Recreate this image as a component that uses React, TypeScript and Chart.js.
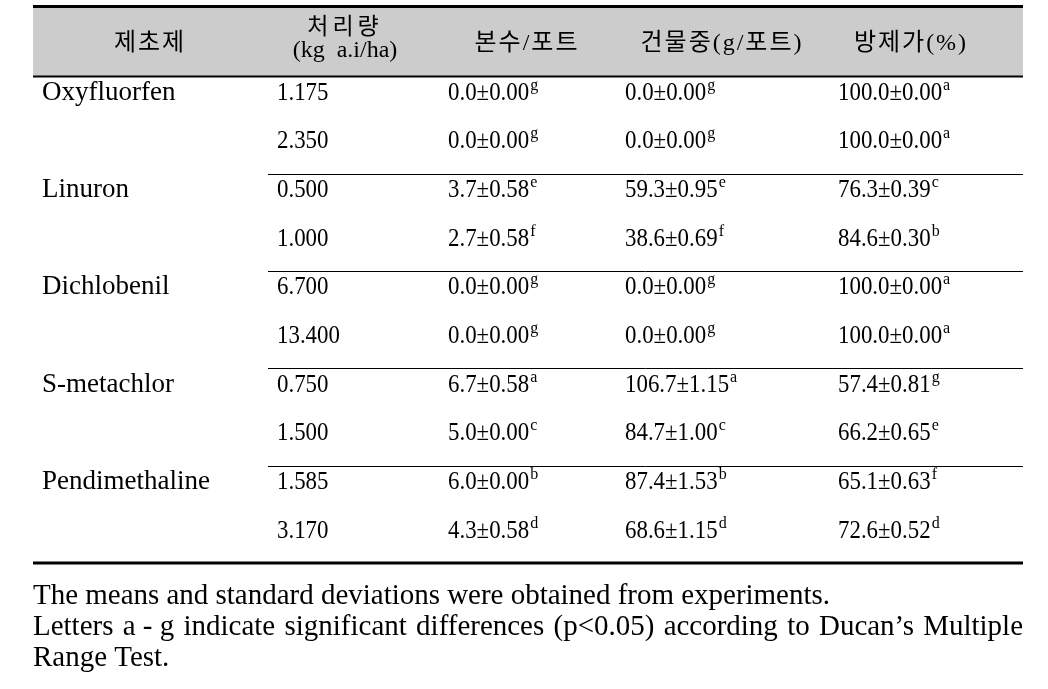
import React, { useEffect, useRef } from "react";
import { Chart, registerables } from "chart.js";

Chart.register(...registerables);

// ---------- data ----------
const headers = ["제초제", "처리량", "본수/포트", "건물중(g/포트)", "방제가(%)"];
const rateUnit = "(kg  a.i/ha)";
const herbicides = ["Oxyfluorfen", "Linuron", "Dichlobenil", "S-metachlor", "Pendimethaline"];
const rates = [1.175, 2.35, 0.5, 1.0, 6.7, 13.4, 0.75, 1.5, 1.585, 3.17];
const plantMean = [0.0, 0.0, 3.7, 2.7, 0.0, 0.0, 6.7, 5.0, 6.0, 4.3];
const plantSd = [0.0, 0.0, 0.58, 0.58, 0.0, 0.0, 0.58, 0.0, 0.0, 0.58];
const plantLetter = ["g", "g", "e", "f", "g", "g", "a", "c", "b", "d"];
const dryMean = [0.0, 0.0, 59.3, 38.6, 0.0, 0.0, 106.7, 84.7, 87.4, 68.6];
const drySd = [0.0, 0.0, 0.95, 0.69, 0.0, 0.0, 1.15, 1.0, 1.53, 1.15];
const dryLetter = ["g", "g", "e", "f", "g", "g", "a", "c", "b", "d"];
const controlMean = [100.0, 100.0, 76.3, 84.6, 100.0, 100.0, 57.4, 66.2, 65.1, 72.6];
const controlSd = [0.0, 0.0, 0.39, 0.3, 0.0, 0.0, 0.81, 0.65, 0.63, 0.52];
const controlLetter = ["a", "a", "c", "b", "a", "a", "g", "e", "f", "d"];
const footLines = [
  "The means and standard deviations were obtained from experiments.",
  "Letters a\u00a0-\u00a0g indicate significant differences (p<0.05) according to Ducan\u2019s Multiple",
  "Range Test.",
];
const footJustify = [false, true, false];

// ---------- layout (table-relative x units, px) ----------
const rowKeys = rates.map((r) => r.toFixed(3));
const colHeadX = [117, 312, 494, 689, 878];
const colTextX = [9, 244, 415, 592, 805];
const sepStartX = 235;
const FOOT_WIDTH = [797, 990, 0];

const SERIF = '"Liberation Serif", "Noto Sans CJK KR"';
const HEAD_FONT = `24px ${SERIF}`;
const SUBHEAD_FONT = `23px ${SERIF}`;
const NAME_FONT = `27px ${SERIF}`;
const NUM_FONT = `26px ${SERIF}`;
const NUM_SX = 0.88;
const SUP_FONT = `16px ${SERIF}`;
const FOOT_FONT = `29px ${SERIF}`;

function txt(ctx: CanvasRenderingContext2D, s: string, x: number, y: number, font: string, align: CanvasTextAlign = "left", sx = 1, base: CanvasTextBaseline = "alphabetic", spacing = "0px") {
  ctx.save();
  ctx.font = font;
  (ctx as any).letterSpacing = spacing;
  ctx.textAlign = align;
  ctx.textBaseline = base;
  ctx.translate(x, y);
  ctx.scale(sx, 1);
  ctx.fillText(s, 0, 0);
  const w = ctx.measureText(s).width * sx;
  ctx.restore();
  return w;
}

function hline(ctx: CanvasRenderingContext2D, x1: number, x2: number, y: number, w: number) {
  ctx.save();
  ctx.strokeStyle = "#000";
  ctx.lineWidth = w;
  ctx.beginPath();
  ctx.moveTo(x1, y);
  ctx.lineTo(x2, y);
  ctx.stroke();
  ctx.restore();
}

const fmt = (m: number, s: number) => `${m.toFixed(1)}\u00b1${s.toFixed(2)}`;

const tablePlugin = {
  id: "tablePlugin",
  afterDraw(chart: any) {
    const ctx: CanvasRenderingContext2D = chart.ctx;
    const a = chart.chartArea;
    const xs = chart.scales.x;
    const ys = chart.scales.y;
    const band = ys.getPixelForValue(1) - ys.getPixelForValue(0);
    ctx.save();

    // header band
    ctx.fillStyle = "#cccccc";
    ctx.fillRect(a.left, a.top - 69, a.right - a.left, 69);
    ctx.fillStyle = "#000";
    hline(ctx, a.left, a.right, a.top - 70, 3);
    hline(ctx, a.left, a.right, a.top, 2);
    hline(ctx, a.left, a.right, a.bottom, 3);

    // group separators
    for (let g = 1; g < herbicides.length; g++) {
      const yy = Math.round(ys.getPixelForValue(g * 2) - band / 2) + 0.5;
      hline(ctx, xs.getPixelForValue(sepStartX), a.right, yy, 1);
    }

    // headers
    headers.forEach((h, c) => {
      const cx = xs.getPixelForValue(colHeadX[c]);
      if (c === 1) {
        txt(ctx, h, cx, a.top - 49, SUBHEAD_FONT, "center", 1, "middle", "4px");
        txt(ctx, rateUnit, cx, a.top - 26, HEAD_FONT, "center", 1, "middle");
      } else {
        txt(ctx, h, cx, a.top - 33, HEAD_FONT, "center", 1, "middle", "2px");
      }
    });

    // body
    const cols = [
      { m: plantMean, s: plantSd, l: plantLetter },
      { m: dryMean, s: drySd, l: dryLetter },
      { m: controlMean, s: controlSd, l: controlLetter },
    ];
    rowKeys.forEach((key, r) => {
      const by = ys.getPixelForValue(r) - 1;
      if (r % 2 === 0) {
        txt(ctx, herbicides[r / 2], xs.getPixelForValue(colTextX[0]), by, NAME_FONT);
      }
      txt(ctx, key, xs.getPixelForValue(colTextX[1]), by, NUM_FONT, "left", NUM_SX);
      cols.forEach((col, k) => {
        const x0 = xs.getPixelForValue(colTextX[k + 2]);
        const w = txt(ctx, fmt(col.m[r], col.s[r]), x0, by, NUM_FONT, "left", NUM_SX);
        txt(ctx, col.l[r], x0 + w + 1, by - 10, SUP_FONT);
      });
    });

    // footnotes
    ctx.font = FOOT_FONT;
    const sx = FOOT_WIDTH[0] / ctx.measureText(footLines[0]).width;
    footLines.forEach((line, i) => {
      const yy = a.bottom + 33 + i * 31;
      if (footJustify[i]) {
        const words = line.split(" ");
        ctx.font = FOOT_FONT;
        const ww = words.map((w) => ctx.measureText(w).width * sx);
        const total = ww.reduce((p, q) => p + q, 0);
        const gap = (FOOT_WIDTH[i] - total) / (words.length - 1);
        let x = a.left;
        words.forEach((w, j) => {
          txt(ctx, w, x, yy, FOOT_FONT, "left", sx, "middle");
          x += ww[j] + gap;
        });
      } else {
        txt(ctx, line, a.left, yy, FOOT_FONT, "left", sx, "middle");
      }
    });
    ctx.restore();
  },
};

export default function App() {
  const ref = useRef<HTMLCanvasElement | null>(null);
  useEffect(() => {
    if (!ref.current) return;
    const chart = new Chart(ref.current, {
      type: "scatter",
      data: { datasets: [] },
      options: {
        animation: false,
        responsive: false,
        devicePixelRatio: 1,
        layout: { padding: { left: 33, right: 25, top: 76.5, bottom: 126 } },
        plugins: { legend: { display: false }, tooltip: { enabled: false } },
        scales: {
          x: { type: "linear", min: 0, max: 990, display: false },
          y: { type: "category", labels: rowKeys, offset: true, display: false },
        },
      },
      plugins: [tablePlugin],
    } as any);
    let alive = true;
    (document as any).fonts?.ready?.then(() => {
      if (alive) chart.draw();
    });
    return () => {
      alive = false;
      chart.destroy();
    };
  }, []);
  return (
    <div style={{ position: "absolute", left: 0, top: 0, width: 1048, height: 689, background: "#fff" }}>
      <canvas ref={ref} width={1048} height={689} style={{ display: "block" }} />
    </div>
  );
}
